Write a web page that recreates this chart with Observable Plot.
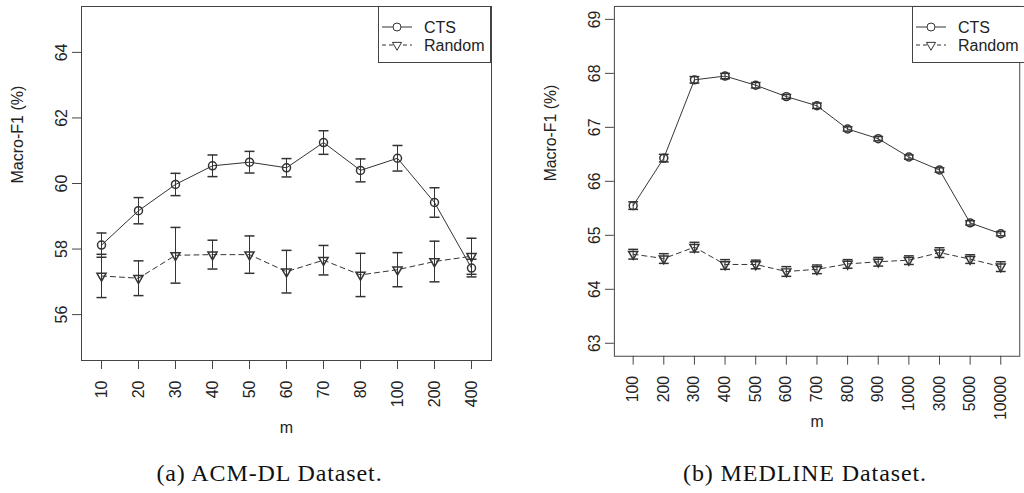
<!DOCTYPE html>
<html><head><meta charset="utf-8">
<script src="https://cdn.jsdelivr.net/npm/d3@7"></script>
<script src="https://cdn.jsdelivr.net/npm/@observablehq/plot@0.6"></script>
<style>
html,body{margin:0;padding:0;background:#fff;width:1024px;height:493px;overflow:hidden;position:relative;font-family:"Liberation Sans",Arial,sans-serif;}
.panel{position:absolute;top:0;}
.legend{position:absolute;top:6px;height:57px;border:1px solid #444;box-sizing:border-box;background:#fff;}
.legend svg{position:absolute;left:-1px;top:-1px;overflow:visible;}
.caption{position:absolute;top:460px;font-family:"Liberation Serif",serif;font-size:24px;letter-spacing:0.9px;white-space:nowrap;text-align:center;width:400px;color:#111;}
</style></head><body>
<div id="a" class="panel" style="left:0"></div>
<div id="b" class="panel" style="left:520px"></div>
<script>
const seriesNames = ["CTS", "Random"];
const yTitle = "Macro-F1 (%)";
const xTitle = "m";

// (a) ACM-DL
const catsA = ["10","20","30","40","50","60","70","80","100","200","400"];
const ctsA = [58.12, 59.17, 59.97, 60.54, 60.65, 60.48, 61.25, 60.40, 60.77, 59.42, 57.42];
const ctsAErr = [0.37, 0.40, 0.34, 0.33, 0.33, 0.28, 0.36, 0.35, 0.39, 0.45, 0.27];
const randA = [57.18, 57.11, 57.81, 57.83, 57.83, 57.31, 57.66, 57.21, 57.37, 57.62, 57.78];
const randAErr = [0.66, 0.53, 0.85, 0.44, 0.57, 0.65, 0.45, 0.66, 0.52, 0.62, 0.55];
const yTicksA = [56, 58, 60, 62, 64];
const captionA = "(a) ACM-DL Dataset.";

// (b) MEDLINE
const catsB = ["100","200","300","400","500","600","700","800","900","1000","3000","5000","10000"];
const ctsB = [65.55, 66.43, 67.88, 67.95, 67.78, 67.57, 67.40, 66.97, 66.79, 66.45, 66.21, 65.23, 65.03];
const ctsBErr = [0.07, 0.07, 0.06, 0.05, 0.05, 0.04, 0.05, 0.04, 0.04, 0.04, 0.04, 0.04, 0.04];
const randB = [64.65, 64.57, 64.78, 64.46, 64.46, 64.33, 64.37, 64.47, 64.51, 64.54, 64.68, 64.56, 64.42];
const randBErr = [0.09, 0.09, 0.09, 0.09, 0.08, 0.09, 0.08, 0.08, 0.08, 0.08, 0.09, 0.08, 0.09];
const yTicksB = [63, 64, 65, 66, 67, 68, 69];
const captionB = "(b) MEDLINE Dataset.";

const INK = "#333";
const cap = {draw(ctx) { ctx.moveTo(-5, 0); ctx.lineTo(5, 0); }};

function panel({cats, cts, ctsErr, rnd, rndErr, yDomain, yTicks, width, marginLeft, marginRight, padding}) {
  const rows = (vals, errs, s) => cats.map((c, i) => ({m: c, v: vals[i], lo: vals[i] - errs[i], hi: vals[i] + errs[i], s}));
  const a = rows(cts, ctsErr, seriesNames[0]);
  const b = rows(rnd, rndErr, seriesNames[1]);
  const all = [...a, ...b];
  return Plot.plot({
    width, height: 445, marginTop: 6, marginBottom: 85, marginLeft, marginRight,
    style: {fontFamily: "Liberation Sans, Arial, sans-serif", fontSize: "16px", color: "#222", background: "transparent", overflow: "visible"},
    x: {type: "point", domain: cats, padding, label: null},
    y: {domain: yDomain, label: null},
    marks: [
      Plot.frame({stroke: "#444"}),
      Plot.axisY({ticks: yTicks, tickFormat: d3.format("d"), tickSize: 9, tickRotate: -90, tickPadding: 6, fontSize: 16, label: null, stroke: "#444"}),
      Plot.axisX({tickSize: 9, tickRotate: -90, tickPadding: 11, fontSize: 16, label: null, stroke: "#444"}),
      Plot.text([yTitle], {text: d => d, frameAnchor: "left", rotate: -90, dx: -64, fontSize: 16, fill: "#222"}),
      Plot.text([xTitle], {text: d => d, frameAnchor: "bottom", dy: 72, fontSize: 16, fill: "#222"}),
      Plot.line(a, {x: "m", y: "v", stroke: INK, strokeWidth: 1}),
      Plot.line(b, {x: "m", y: "v", stroke: INK, strokeWidth: 1, strokeDasharray: "5,4"}),
      Plot.ruleX(all, {x: "m", y1: "lo", y2: "hi", stroke: INK, strokeWidth: 1}),
      Plot.dot(all, {x: "m", y: "lo", symbol: cap, r: 5, stroke: INK, fill: "none"}),
      Plot.dot(all, {x: "m", y: "hi", symbol: cap, r: 5, stroke: INK, fill: "none"}),
      Plot.dot(a, {x: "m", y: "v", r: 4, stroke: INK, fill: "none"}),
      Plot.dot(b, {x: "m", y: "v", symbol: "triangle", rotate: 180, r: 3.4, stroke: INK, fill: "none"})
    ]
  });
}

document.getElementById("a").append(panel({
  cats: catsA, cts: ctsA, ctsErr: ctsAErr, rnd: randA, rndErr: randAErr,
  yDomain: [54.6, 65.4], yTicks: yTicksA, width: 510, marginLeft: 81, marginRight: 19, padding: 0.4
}));
document.getElementById("b").append(panel({
  cats: catsB, cts: ctsB, ctsErr: ctsBErr, rnd: randB, rndErr: randBErr,
  yDomain: [62.76, 69.24], yTicks: yTicksB, width: 510, marginLeft: 95, marginRight: 4.8, padding: 0.48
}));

function legend(left, width) {
  const div = d3.select("body").append("div").attr("class", "legend")
    .style("left", left + "px").style("width", width + "px");
  const svg = div.append("svg").attr("width", width).attr("height", 57);
  seriesNames.forEach((name, i) => {
    const y = 21 + i * 18;
    svg.append("line").attr("x1", 4).attr("x2", 34).attr("y1", y).attr("y2", y)
      .attr("stroke", INK).attr("stroke-dasharray", i ? "4,3" : null);
    if (i === 0) {
      svg.append("circle").attr("cx", 19).attr("cy", y).attr("r", 4).attr("fill", "#fff").attr("stroke", INK);
    } else {
      svg.append("path").attr("d", d3.symbol(d3.symbolTriangle, 36)())
        .attr("transform", `translate(19,${y}) rotate(180)`).attr("fill", "#fff").attr("stroke", INK);
    }
    svg.append("text").attr("x", 46).attr("y", y + 5.5).attr("font-size", 16)
      .attr("font-family", "Liberation Sans, Arial, sans-serif").attr("fill", "#222").text(name);
  });
}
legend(378, 113);
legend(912, 113);

function caption(text, center) {
  d3.select("body").append("div").attr("class", "caption")
    .style("left", (center - 200) + "px").text(text);
}
caption(captionA, 269.5);
caption(captionB, 805);
</script>
</body></html>
